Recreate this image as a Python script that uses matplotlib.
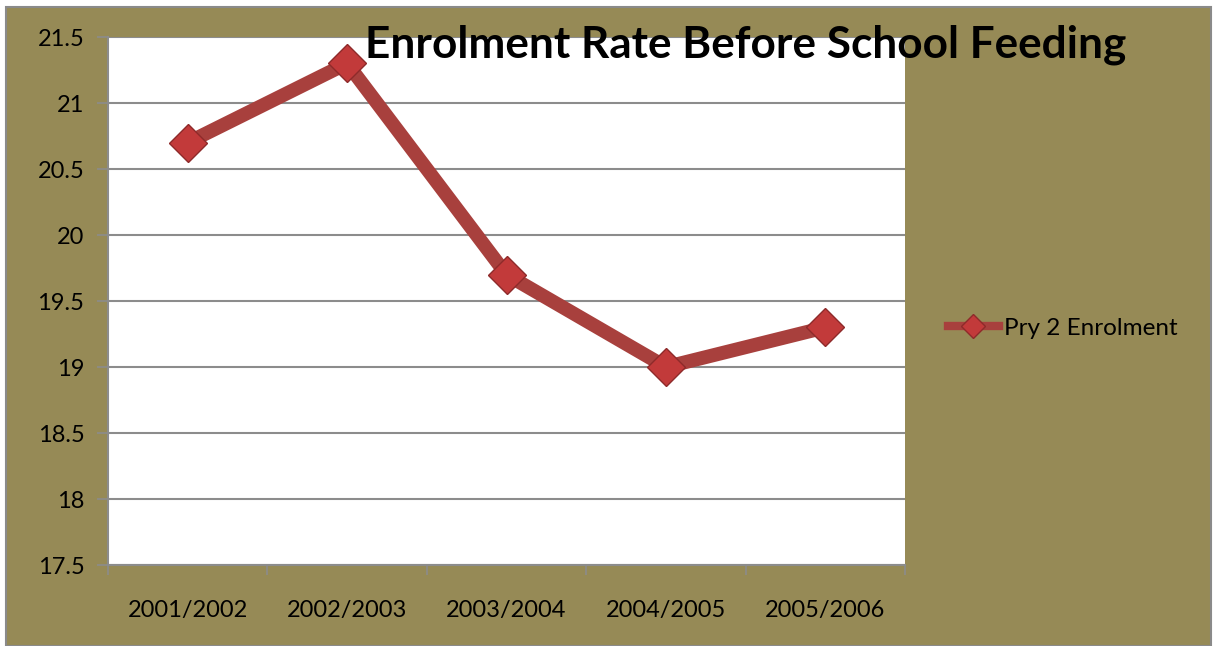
import matplotlib.pyplot as plt
from matplotlib.patches import Rectangle
from matplotlib.lines import Line2D

# Datos del gráfico
years = ['2001/2002', '2002/2003', '2003/2004', '2004/2005', '2005/2006']
enrolment = [20.7, 21.3, 19.7, 19.0, 19.3]
y_ticks = [17.5, 18, 18.5, 19, 19.5, 20, 20.5, 21, 21.5]
y_tick_labels = ['17.5', '18', '18.5', '19', '19.5', '20', '20.5', '21', '21.5']

olive = '#968A56'
line_red = '#A8403D'
marker_red = '#C23A3A'
grid_gray = '#8C8C8C'

plt.rcParams['font.family'] = ['Lato', 'DejaVu Sans']

W, H = 1217, 646
fig = plt.figure(figsize=(W / 100, H / 100), dpi=100)
fig.patch.set_facecolor('white')

# Fondo verde oliva con borde gris
fig.patches.append(Rectangle((6 / W, 0), (1205 / W), 1 - 7 / H, transform=fig.transFigure,
                             facecolor=olive, edgecolor='#8A8A8A', linewidth=1.5, zorder=-1))

ax = fig.add_axes([108 / W, 1 - 565 / H, 797 / W, 528 / H])
ax.set_facecolor('white')
ax.set_zorder(1)

x = list(range(len(years)))
ax.plot(x, enrolment, color=line_red, linewidth=10, solid_capstyle='butt', zorder=3)
ax.plot(x, enrolment, linestyle='none', marker='D', markersize=19.5,
        markerfacecolor=marker_red, markeredgecolor='#8E2A2A', markeredgewidth=1, zorder=4,
        label='Pry 2 Enrolment')

ax.set_xlim(-0.5, len(years) - 0.5)
ax.set_ylim(17.5, 21.5)
ax.set_yticks(y_ticks)
ax.set_yticklabels(y_tick_labels)
ax.set_xticks(x)
ax.set_xticklabels(years)
ax.set_xticks([i - 0.5 for i in range(len(years) + 1)], minor=True)
ax.tick_params(axis='x', which='major', length=0, pad=25, labelsize=17)
ax.tick_params(axis='x', which='minor', length=7, color=grid_gray, width=1.2)
ax.tick_params(axis='y', length=8, color=grid_gray, width=1.2, pad=9, labelsize=17)
ax.yaxis.grid(True, color=grid_gray, linewidth=1.5)
ax.set_axisbelow(True)

for side in ['top', 'right']:
    ax.spines[side].set_visible(False)
for side in ['left', 'bottom']:
    ax.spines[side].set_color(grid_gray)
    ax.spines[side].set_linewidth(1.5)

# Leyenda
handle = Line2D([], [], color=line_red, linewidth=6, marker='D', markersize=12,
                markerfacecolor=marker_red, markeredgecolor='#8E2A2A')
leg = fig.legend([handle], ['Pry 2 Enrolment'], loc='center left',
                 bbox_to_anchor=(926 / W, 1 - 328 / H), frameon=False, fontsize=17.5,
                 handlelength=2.1, handletextpad=0.2)
leg.set_zorder(2)

title = fig.text(746 / W, 1 - 45 / H, 'Enrolment Rate Before School Feeding', ha='center',
                 va='center', fontsize=31.8, fontweight='bold', color='black')
title.set_zorder(3)

fig.savefig('out.png', dpi=100)
